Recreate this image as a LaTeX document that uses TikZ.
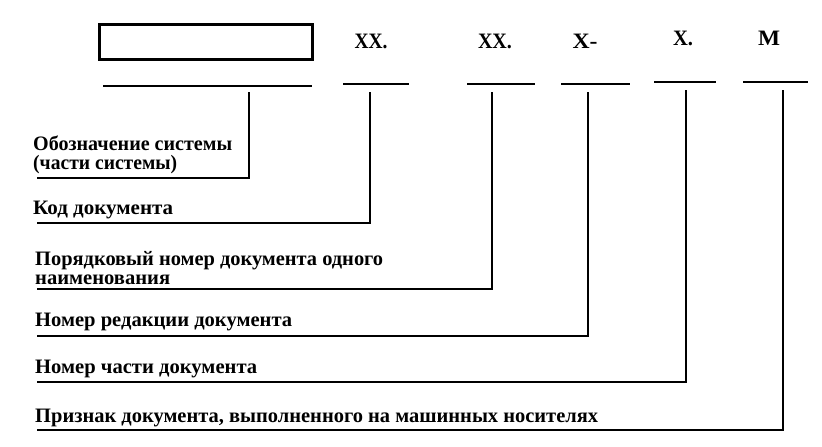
\documentclass[tikz,border=0pt]{standalone}
\usepackage{fontspec}
\setmainfont{Liberation Serif}
\usepackage{graphicx}
\begin{document}
% text stretched to a fixed width, natural height kept
\newcommand\fitw[2]{\resizebox{#1}{\height}{#2}}
\begin{tikzpicture}[x=1pt,y=-1pt,
  rule/.style={line width=2.6pt},
  lbl/.style={anchor=base west,inner sep=0pt,align=left,font=\bfseries\fontsize{20.5}{18.5}\selectfont},
  code/.style={anchor=base,inner sep=0pt,font=\bfseries\fontsize{22}{22}\selectfont}]
\useasboundingbox (0,0) rectangle (822,447);
% name field
\node[draw,line width=2.6pt,minimum width=213pt,minimum height=35pt,inner sep=0pt] (box) at (206,42) {};
% code letters
\node[code] (c2) at (371,48) {\fitw{33pt}{XX.}};
\node[code] (c3) at (495,48) {\fitw{34pt}{XX.}};
\node[code] (c4) at (585,48) {\fitw{25pt}{X-}};
\node[code] (c5) at (683,45) {\fitw{20pt}{X.}};
\node[code] (c6) at (769,45) {\fitw{22pt}{M}};
% underlines of the fields
\coordinate (u1a) at (103,86); \coordinate (u1b) at (312,86);
\coordinate (u2a) at (343,84); \coordinate (u2b) at (409,84);
\coordinate (u3a) at (467,84); \coordinate (u3b) at (535,84);
\coordinate (u4a) at (561,84); \coordinate (u4b) at (630,84);
\coordinate (u5a) at (654,82); \coordinate (u5b) at (716,82);
\coordinate (u6a) at (743,82); \coordinate (u6b) at (808,82);
\foreach \i in {1,...,6} \draw[rule] (u\i a) -- (u\i b);
% leader tops
\coordinate (v1) at (249,92);
\coordinate (v2) at (370,92);
\coordinate (v3) at (492,92);
\coordinate (v4) at (588,92);
\coordinate (v5) at (686,90);
\coordinate (v6) at (783,90);
% explanation texts (base anchor of a two-line text sits on its last line)
\node[lbl] (t1) at (33,169) {\fitw{199pt}{Обозначение системы}\\\fitw{144pt}{(части системы)}};
\node[lbl] (t2) at (33,214) {\fitw{140pt}{Код документа}};
\node[lbl] (t3) at (35,284) {\fitw{348pt}{Порядковый номер документа одного}\\\fitw{135pt}{наименования}};
\node[lbl] (t4) at (35,326) {\fitw{257pt}{Номер редакции документа}};
\node[lbl] (t5) at (35,373) {\fitw{222pt}{Номер части документа}};
\node[lbl] (t6) at (35,422) {\fitw{563pt}{Признак документа, выполненного на машинных носителях}};
% leaders: underline of each text, then up to its field
\coordinate (b1) at (37,178);
\coordinate (b2) at (37,223);
\coordinate (b3) at (37,289);
\coordinate (b4) at (37,336);
\coordinate (b5) at (37,382);
\coordinate (b6) at (37,430);
\foreach \i in {1,...,6} \draw[rule] (b\i) -| (v\i);
\end{tikzpicture}
\end{document}
